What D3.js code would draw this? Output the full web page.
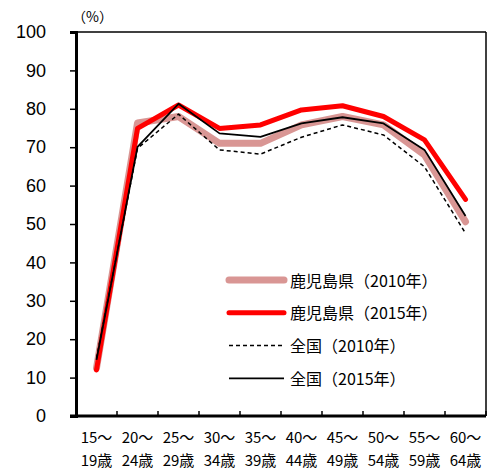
<!DOCTYPE html>
<html>
<head>
<meta charset="utf-8">
<script src="https://cdn.jsdelivr.net/npm/d3@7"></script>
<style>
  html, body { margin: 0; padding: 0; background: #fff; }
  svg { display: block; }
  text { font-family: "Noto Sans CJK JP", "Noto Sans", sans-serif; fill: #000; }
</style>
</head>
<body>
<svg id="chart" width="488" height="472"></svg>
<script>
// Age groups (two-line labels)
const ageTop = ["15～", "20～", "25～", "30～", "35～", "40～", "45～", "50～", "55～", "60～"];
const ageBottom = ["19歳", "24歳", "29歳", "34歳", "39歳", "44歳", "49歳", "54歳", "59歳", "64歳"];

// Labour force participation rate (%)
const kagoshima2010 = [12.5, 76.3, 78.0, 71.0, 71.0, 75.8, 78.0, 75.8, 68.0, 50.6];
const kagoshima2015 = [12.0, 74.9, 81.0, 74.9, 75.8, 79.7, 80.8, 78.0, 71.9, 56.4];
const national2010 = [15.0, 69.7, 78.6, 69.3, 68.2, 72.6, 75.8, 73.2, 64.9, 47.6];
const national2015 = [14.6, 70.1, 81.3, 73.6, 72.7, 76.2, 77.8, 76.2, 69.3, 52.1];

const yTicks = [0, 10, 20, 30, 40, 50, 60, 70, 80, 90, 100];
const seriesNames = ["鹿児島県（2010年）", "鹿児島県（2015年）", "全国（2010年）", "全国（2015年）"];

const series = [
  { name: seriesNames[0], values: kagoshima2010, color: "#d99694", width: 7, dash: null },
  { name: seriesNames[1], values: kagoshima2015, color: "#ff0000", width: 5, dash: null },
  { name: seriesNames[2], values: national2010, color: "#000", width: 1.5, dash: "4,3" },
  { name: seriesNames[3], values: national2015, color: "#000", width: 1.8, dash: null }
];

const svg = d3.select("#chart");
const plotL = 76, plotR = 486, plotT = 32, plotB = 416;

const x = d3.scaleBand().domain(d3.range(ageTop.length)).range([plotL, plotR]);
const y = d3.scaleLinear().domain([0, 100]).range([plotB, plotT]);

// Frame: top and right borders
svg.append("line").attr("x1", 70).attr("x2", plotR).attr("y1", plotT).attr("y2", plotT)
  .attr("stroke", "#000").attr("stroke-width", 1.5);
svg.append("line").attr("x1", plotR).attr("x2", plotR).attr("y1", plotT).attr("y2", plotB)
  .attr("stroke", "#000").attr("stroke-width", 1.5);

// Y axis
const yAxis = svg.append("g").attr("transform", `translate(${plotL},0)`)
  .call(d3.axisLeft(y).tickValues(yTicks).tickSize(6).tickPadding(24));
yAxis.select(".domain").attr("stroke-width", 3);
yAxis.selectAll(".tick line").attr("stroke-width", 1.5);
yAxis.selectAll(".tick text")
  .style("font-family", "'Liberation Sans', Arial, sans-serif")
  .style("font-size", "18px");

// X axis: inward ticks at category boundaries
const xAxisG = svg.append("g");
xAxisG.append("line").attr("x1", 70).attr("x2", plotR).attr("y1", plotB).attr("y2", plotB)
  .attr("stroke", "#000").attr("stroke-width", 3);
xAxisG.selectAll(".xtick").data(d3.range(1, ageTop.length + 1)).join("line")
  .attr("x1", d => plotL + x.step() * d).attr("x2", d => plotL + x.step() * d)
  .attr("y1", plotB).attr("y2", plotB - 5)
  .attr("stroke", "#000").attr("stroke-width", 1.5);

const xl = svg.append("g").attr("font-size", 15);
xl.selectAll(".l1").data(ageTop).join("text")
  .attr("x", (d, i) => x(i) + x.bandwidth() / 2).attr("y", 443)
  .attr("text-anchor", "middle").text(d => d);
xl.selectAll(".l2").data(ageBottom).join("text")
  .attr("x", (d, i) => x(i) + x.bandwidth() / 2).attr("y", 466)
  .attr("text-anchor", "middle").text(d => d);

// Unit label
svg.append("text").attr("x", 72).attr("y", 22).attr("font-size", 14).text("（%）");

// Lines
const line = d3.line().x((d, i) => x(i) + x.bandwidth() / 2).y(d => y(d));
series.forEach(s => {
  svg.append("path").datum(s.values)
    .attr("d", line)
    .attr("fill", "none")
    .attr("stroke", s.color)
    .attr("stroke-width", s.width)
    .attr("stroke-linejoin", "round")
    .attr("stroke-linecap", s.width > 3 ? "round" : "butt")
    .attr("stroke-dasharray", s.dash);
});

// Legend
const lg = svg.append("g");
series.forEach((s, i) => {
  const yy = 280 + i * 32.8;
  lg.append("line").attr("x1", 229).attr("x2", 284).attr("y1", yy).attr("y2", yy)
    .attr("stroke", s.color).attr("stroke-width", s.width)
    .attr("stroke-linecap", s.width > 3 ? "round" : "butt")
    .attr("stroke-dasharray", s.dash);
  lg.append("text").attr("x", 290).attr("y", yy + 6.5).attr("font-size", 16).text(s.name);
});
</script>
</body>
</html>
